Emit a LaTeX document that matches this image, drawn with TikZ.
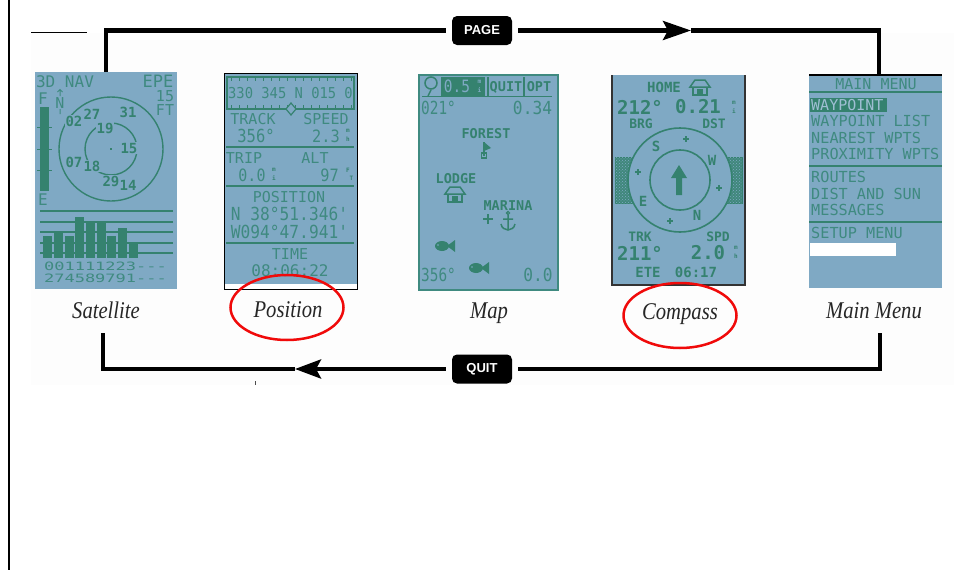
\documentclass[tikz,border=0pt]{standalone}
\usepackage{fontspec}
\setmainfont{Liberation Serif}
\setsansfont{Liberation Sans}
\setmonofont{DejaVu Sans Mono}
\usetikzlibrary{arrows.meta,patterns}
\definecolor{scr}{HTML}{7FA9C4}
\definecolor{lcdg}{HTML}{35826F}
\definecolor{lcdl}{HTML}{3F8A80}
\definecolor{redc}{HTML}{F00A0A}
\definecolor{wash}{HTML}{FDFDFD}
\tikzset{
  screen/.style={fill=scr,draw=none,inner sep=0pt,anchor=north west},
  lcdtext/.style={inner sep=0pt,text=lcdl},
  lcdbold/.style={inner sep=0pt,text=lcdg},
  rule/.style={draw=lcdg,line width=1.6pt},
  solidg/.style={fill=lcdg,draw=none},
  conn/.style={line width=4.2pt,draw=black,line join=miter},
  btn/.style={fill=black,rounded corners=5pt,text=white,font=\sffamily\bfseries\fontsize{13}{13}\selectfont,minimum width=60pt,minimum height=29pt,inner sep=0pt},
  caption/.style={font=\itshape\fontsize{24}{24}\selectfont,text=black!85,inner sep=0pt,xscale=.86},
  redring/.style={draw=redc,line width=2.5pt},
  gapped/.style={fill=scr,inner ysep=1pt,inner xsep=.5pt},
  unitstack/.style={inner sep=0pt,align=center,font=\ttfamily\bfseries\fontsize{6}{8.5}\selectfont}
}
\newcommand\lcd[5]{\node[lcdtext,font=\ttfamily\fontsize{#4}{#4}\selectfont] (#1) at (#2,#3) {#5};}
\newcommand\lcx[6]{\node[lcdtext,xscale=#5,font=\ttfamily\fontsize{#4}{#4}\selectfont] (#1) at (#2,#3) {#6};}
\newcommand\lcb[5]{\node[lcdbold,font=\ttfamily\bfseries\fontsize{#4}{#4}\selectfont] (#1) at (#2,#3) {#5};}
\newcommand\lcw[5]{\node[lcdtext,anchor=west,font=\ttfamily\fontsize{#4}{#4}\selectfont] (#1) at (#2,#3) {#5};}
\newcommand\satn[3]{\node[lcdbold,gapped,font=\ttfamily\bfseries\fontsize{14}{14}\selectfont] (sat#1) at (#2,#3) {#1};}
\newcommand\unit[4]{\node[unitstack,text=lcdg] (#1) at (#2,#3) {#4};}
\newcommand\fish[2]{\begin{scope}[shift={(#1,#2)}]
  \fill[lcdg] (0,0) ellipse (7pt and 5pt);
  \fill[lcdg] (5,0) -- (13,-6) -- (13,6) -- cycle;
  \fill[scr] (-4,-1) circle (.9pt);
\end{scope}}
\newcommand\house[2]{\begin{scope}[shift={(#1,#2)}]
  \draw[lcdg,line width=1.5pt] (-10,0) -- (-5,-7) -- (5,-7) -- (10,0) -- cycle;
  \draw[lcdg,line width=1.5pt] (-7,0) -- (-7,8) -- (7,8) -- (7,0);
  \fill[lcdg] (-3,2) rectangle (3,8);
\end{scope}}
\begin{document}
\begin{tikzpicture}[x=1pt,y=-1pt]
\useasboundingbox (0,0) rectangle (954,570);
\fill[wash] (31,33) rectangle (954,385);
% frame lines
\coordinate (fa) at (9,0); \coordinate (fb) at (9,570);
\draw[line width=2pt] (fa) -- (fb);
\coordinate (sa) at (31,32); \coordinate (sb) at (87,32);
\draw[line width=1pt] (sa) -- (sb);
\coordinate (ma) at (255,381); \coordinate (mb) at (255,385);
\draw[line width=1pt,black!70] (ma) -- (mb);

% screens
\node[screen,minimum width=142pt,minimum height=217pt] (sat) at (35,72) {};
\node[screen,minimum width=133pt,minimum height=212pt] (pos) at (224,73) {};
\node[screen,minimum width=139pt,minimum height=215pt] (map) at (419,75) {};
\node[screen,minimum width=133pt,minimum height=210pt] (cmp) at (612,75) {};
\node[screen,minimum width=133pt,minimum height=213pt] (mnu) at (809,75) {};

% connectors
\node[btn] (pagebtn) at (482,30.5) {PAGE};
\node[btn] (quitbtn) at (482,369) {QUIT};
\coordinate (ptip) at (691,30.5);
\coordinate (qtip) at (295,369);
\coordinate (topl) at (106,72);
\coordinate (topr) at (879,75);
\coordinate (botl) at (103,333);
\coordinate (botr) at (880,333);
\draw[conn,shorten >=6pt] (topl) |- (pagebtn.west);
\draw[conn,shorten <=6pt,-{Stealth[length=28pt,width=19pt,inset=5pt]}] (pagebtn.east) -- (ptip);
\draw[conn] (ptip) -| (topr);
\draw[conn,shorten <=6pt] (quitbtn.east) -| (botr);
\draw[conn,shorten <=6pt,-{Stealth[length=26pt,width=19pt,inset=5pt]}] (quitbtn.west) -- (qtip);
\draw[conn] (qtip) -| (botl);

% SATELLITE
\lcd{s1}{65}{81.5}{16}{3D NAV}
\lcd{s2}{158}{81.5}{17}{EPE}
\lcd{s3}{165}{96}{15}{15}
\lcd{s4}{165}{110.5}{15}{FT}
\lcd{s5}{43}{99}{16}{F}
\lcd{s6}{43}{200}{16}{E}
\lcd{s7}{60}{103}{15}{N}
\draw[lcdl,line width=1pt] (60,90) -- (60,96) (57.5,92) -- (60,89.5) -- (62.5,92) (60,109) -- (60,114);
\fill[lcdg] (40,107) rectangle (49,191);
\draw[lcdg,line width=1pt] (37,127) -- (52,127) (37,149) -- (52,149) (37,170) -- (52,170);
\draw[lcdg,line width=1.4pt] (111,149) circle (52pt);
\draw[lcdg,line width=1.4pt] (111,149) circle (26pt);
\satn{27}{92}{114}\satn{02}{74}{121}\satn{31}{128}{112}\satn{19}{105}{128}\satn{15}{129}{148}
\satn{07}{74}{162}\satn{18}{92}{166}\satn{29}{111}{181}\satn{14}{128}{185}
\fill[lcdg] (110,148) rectangle (112,150);
\foreach \yy in {211,222,232,243,253} {\draw[rule] (40,\yy) -- (173,\yy);}
\foreach \xa/\xb/\tp in {43/52/236,54/63/232,65/74/236,75/84/217,86/95/222,97/106/222,107/116/236,118/127/228,129/138/243}
  {\fill[lcdg] (\xa,\tp) rectangle (\xb,258);}
\lcx{s8}{105.5}{266}{11.5}{1.48}{001111223---}
\lcx{s9}{105.5}{278.5}{11.5}{1.48}{274589791---}

% POSITION
\fill[white] (224,284) rectangle (357,289);
\draw[black,line width=1pt] (224,73) rectangle (357,289);
\draw[rule] (227,77) rectangle (354,109);
\foreach \i in {0,...,15}{
  \pgfmathsetmacro\xx{231+8*\i}
  \draw[lcdg,line width=1pt] (\xx,77) -- (\xx,81) (\xx,105) -- (\xx,109);
}
\lcx{p0}{290.5}{93}{15}{.92}{330 345 N 015 0}
\draw[lcdg,line width=1.2pt,fill=scr] (291,103) -- (296,109) -- (291,115) -- (286,109) -- cycle;
\lcd{p1}{253}{119}{15}{TRACK}
\lcd{p2}{326}{119}{15}{SPEED}
\lcx{p3}{256}{136}{18}{.86}{356°}
\lcx{p4}{326}{136}{17}{.9}{2.3}
\unit{p4u}{348}{135.5}{m\\h}
\draw[rule] (226,147) -- (354,147);
\lcd{p5}{244}{158}{15}{TRIP}
\lcd{p6}{315}{158}{15}{ALT}
\lcx{p7}{252}{175}{17}{.88}{0.0}
\unit{p7u}{274}{174.5}{m\\i}
\lcx{p8}{329.5}{175}{17}{.9}{97}
\unit{p8u}{348}{174.5}{F\\\hspace*{7pt}T}
\draw[rule] (226,186) -- (354,186);
\lcd{p9}{289}{197}{15}{POSITION}
\lcx{p10}{289.5}{214}{18}{.9}{N 38°51.346'}
\lcx{p11}{289.5}{232}{18}{.9}{W094°47.941'}
\draw[rule] (226,243) -- (354,243);
\lcd{p12}{290}{254}{15}{TIME}
\lcd{p13}{290}{271}{16}{08:06:22}

% MAP
\draw[lcdl,line width=2pt] (map.north west) rectangle (map.south east);
\draw[lcdg,line width=1.5pt] (431,83) circle (6pt);
\draw[lcdg,line width=1.5pt] (428,96) -- (431,90);
\fill[lcdg] (441,77) rectangle (485,96);
\node[inner sep=0pt,text=scr,xscale=.85,font=\ttfamily\fontsize{17}{17}\selectfont] (m0) at (457,86) {0.5};
\node[unitstack,text=scr] (m0u) at (479.5,86.5) {m\\i};
\lcb{m1}{506}{87}{13.5}{QUIT}
\lcb{m2}{539}{87}{13.5}{OPT}
\draw[lcdg,line width=1.2pt] (488,77) -- (488,96) (524,77) -- (524,96);
\draw[rule] (422,96.5) -- (552,96.5);
\lcx{m3}{438.5}{108}{18}{.8}{021°}
\lcx{m4}{532.5}{108}{18}{.9}{0.34}
\lcb{m5}{486}{134}{13.5}{FOREST}
\draw[lcdg,line width=1.5pt] (484,142) -- (484,156);
\fill[lcdg] (484,142) -- (491,148) -- (484,151) -- cycle;
\draw[lcdg,line width=1.3pt] (481.5,153) rectangle (486.5,158);
\lcb{m6}{456}{179}{13.5}{LODGE}
\house{455}{194}
\lcb{m7}{508}{206}{13.5}{MARINA}
\draw[lcdg,line width=1.5pt] (483,219) -- (493,219) (488,214) -- (488,224);
\draw[lcdg,line width=1.5pt] (508,215) -- (508,229) (503,219) -- (513,219) (501,224) .. controls (502,229) and (505,229) .. (508,230) .. controls (511,229) and (514,229) .. (515,224);
\draw[lcdg,line width=1.2pt] (508,213) circle (1.6pt);
\fish{442}{246}
\fish{476}{268}
\lcx{m8}{438.5}{275}{18}{.8}{356°}
\lcx{m9}{538}{275}{18}{.9}{0.0}

% COMPASS
\draw[black!80,line width=1.2pt] (612,75) -- (612,285) -- (745,285) -- (745,75);
\fill[lcdg!85!scr] (615,157) rectangle (742,203);
\draw[lcdg,line width=1pt] (615,157) rectangle (742,203);
\fill[pattern=crosshatch dots,pattern color=scr] (615,157) rectangle (742,203);
\draw[lcdg,line width=1.6pt,fill=scr] (680,180) circle (52pt);
\draw[lcdg,line width=1.6pt] (680,180) circle (30pt);
\fill[lcdg] (679,165) -- (687,178) -- (682,178) -- (682,195) -- (676,195) -- (676,178) -- (671,178) -- cycle;
\lcb{c1}{664}{87}{14}{HOME}
\house{700}{87}
\lcb{c2}{640}{107}{19}{212°}
\lcb{c3}{698}{107}{19}{0.21}
\unit{c3u}{734}{107.5}{m\\i}
\lcb{c4}{641}{124}{13}{BRG}
\lcb{c5}{714}{124}{13}{DST}
\lcb{c6}{656}{146}{14}{S}
\lcb{c7}{712}{160}{14}{W}
\lcb{c8}{643}{201}{14}{E}
\lcb{c9}{697}{215}{14}{N}
\foreach \px/\py in {686/139,638/172,719/188,670/221}
  {\draw[lcdg,line width=1.5pt] (\px-3,\py) -- (\px+3,\py) (\px,\py-3) -- (\px,\py+3);}
\lcb{c10}{640}{237}{13}{TRK}
\lcb{c11}{718}{237}{13}{SPD}
\lcb{c12}{640}{253}{19}{211°}
\lcb{c13}{708}{253}{19}{2.0}
\unit{c13u}{736}{252.5}{m\\h}
\lcb{c14}{648}{272}{14}{ETE}
\lcb{c15}{696}{272}{14}{06:17}

% MAIN MENU
\draw[black,line width=1.2pt] (mnu.north west) -- (mnu.north east);
\lcd{n0}{876}{84}{15}{MAIN MENU}
\draw[rule] (809,92) -- (942,92);
\fill[lcdg] (810,98) rectangle (887,112);
\node[inner sep=0pt,anchor=west,text=scr!75!white,font=\ttfamily\fontsize{15}{15}\selectfont] (n1) at (811,105) {WAYPOINT};
\lcw{n2}{811}{121}{15.2}{WAYPOINT LIST}
\lcw{n3}{811}{137.5}{15.2}{NEAREST WPTS}
\lcw{n4}{811}{154}{15.2}{PROXIMITY WPTS}
\draw[rule] (809,166) -- (942,166);
\lcw{n5}{811}{177}{15.2}{ROUTES}
\lcw{n6}{811}{193.5}{15.2}{DIST AND SUN}
\lcw{n7}{811}{210}{15.2}{MESSAGES}
\draw[rule] (809,222) -- (942,222);
\lcw{n8}{811}{232.5}{15.2}{SETUP MENU}
\fill[white] (810,243) rectangle (896,256);

% captions
\node[caption] (capa) at (106,310) {Satellite};
\node[caption] (capb) at (288,310) {Position};
\node[caption] (capc) at (489,313) {Map};
\node[caption] (capd) at (680,314) {Compass};
\node[caption] (cape) at (874,311) {Main Menu};
\draw[redring] (287,307.5) ellipse (56.5pt and 32.5pt);
\draw[redring] (680,315.5) ellipse (56.5pt and 32.5pt);
\end{tikzpicture}
\end{document}
